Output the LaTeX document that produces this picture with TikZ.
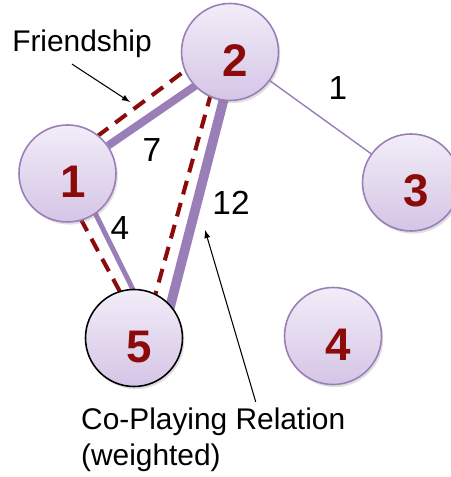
\documentclass[tikz,border=0pt]{standalone}
\usepackage{fontspec}
\setmainfont{Liberation Sans}
\usepackage{tikz}
\usetikzlibrary{shapes, arrows, positioning, calc, shadows}
\pgfdeclarelayer{bg}
\pgfsetlayers{bg,main}
\definecolor{lav}{HTML}{9A7EB8}
\definecolor{lavtop}{HTML}{F2EDF8}
\definecolor{lavbot}{HTML}{D5C5E6}
\definecolor{darkred}{HTML}{8B0A0A}

\begin{document}
\begin{tikzpicture}[player/.style={circle, draw=lav, line width=0.9pt,
		minimum size=1.94cm, inner sep=0pt, top color=lavtop, bottom color=lavbot,
		drop shadow={opacity=0.25, shadow xshift=1pt, shadow yshift=-1.5pt},
		font=\fontsize{26}{30}\selectfont\bfseries, text=darkred,
		text height=27.6pt, text depth=0pt,
		execute at begin node={\hspace*{0.22cm}}},
	coplay/.style={draw=lav, line cap=butt},
	friend/.style={draw=darkred, dashed, line width=2.3pt, dash pattern=on 8pt off 5pt},
	wlabel/.style={font=\fontsize{19}{22}\selectfont},
	note/.style={font=\fontsize{17}{20.5}\selectfont},
	noteline/.style={-latex, black, line width=0.6pt}]
	\useasboundingbox (0,0) rectangle (9,9.54);
	\node[player] (n2) at (4.6,8.5) {2};
	\node[player] (n1) at (1.35,6.07) {1};
	\node[player] (n3) at (8.22,5.89) {3};
	\node[player] (n4) at (6.66,2.82) {4};
	\node[player, draw=black] (n5) at (2.68,2.78) {5};
	\coordinate (n5t) at ([xshift=0.56cm]n5.center);
	\coordinate (n2t) at ([xshift=0.12cm]n2.center);
	\begin{pgfonlayer}{bg}
		\draw[coplay, line width=4.5pt] (n1) -- ([yshift=-0.2cm]n2.center);
		\draw[coplay, line width=5.5pt] (n2t) -- (n5t);
		\draw[coplay, line width=2.8pt] ([xshift=0.16cm]n1.center) -- ([xshift=-0.1cm]n5t);
		\draw[coplay, line width=0.8pt] (n2) -- (n3);
		\draw[friend] ($(n1)!0.24cm!90:(n2)$) -- ($(n2)!0.24cm!-90:(n1)$);
		\draw[friend] ($(n2t)!0.26cm!-90:(n5t)$) -- ($(n5t)!0.36cm!90:(n2t)$);
		\draw[friend] ($(n1)!0.2cm!-90:(n5t)$) -- ($(n5t)!0.3cm!90:(n1)$);
	\end{pgfonlayer}
	\node[wlabel] (w12) at (3.04,6.54) {7};
	\node[wlabel] (w25) at (4.62,5.48) {12};
	\node[wlabel] (w15) at (2.4,4.98) {4};
	\node[wlabel] (w23) at (6.76,7.78) {1};
	\node[note] (fr) at (1.64,8.66) {Friendship};
	\coordinate (frtip) at (2.6,7.5);
	\draw[noteline] ([xshift=-0.2cm]fr.south) -- (frtip);
	\node[note, align=left, anchor=west] (cp) at (1.5,0.74) {Co-Playing Relation\\(weighted)};
	\coordinate (cptip) at (4.1,4.94);
	\draw[noteline] ([xshift=0.85cm]cp.north) -- (cptip);
\end{tikzpicture}
\end{document}
